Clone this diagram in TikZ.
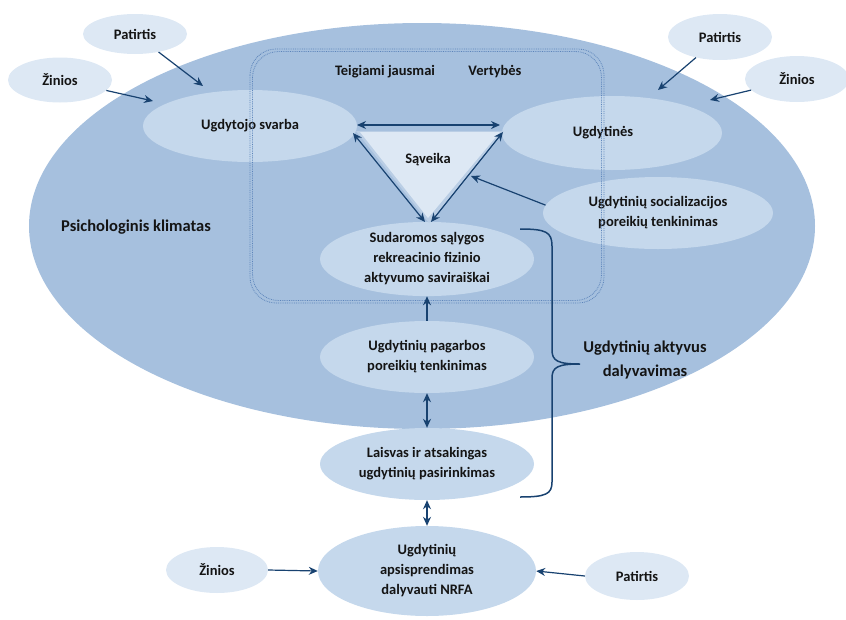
\documentclass[tikz,border=0pt]{standalone}
\usepackage{fontspec}
\setmainfont{Carlito}
\usetikzlibrary{shapes.geometric,arrows.meta}
\definecolor{bigfill}{RGB}{166,192,222}
\definecolor{midfill}{RGB}{197,216,236}
\definecolor{lightfill}{RGB}{221,232,244}
\definecolor{trishadow}{RGB}{186,206,229}
\definecolor{arrowcol}{RGB}{24,66,112}
\definecolor{dotcol}{RGB}{92,132,186}
\definecolor{txtcol}{RGB}{20,20,20}
\begin{document}
\begin{tikzpicture}[x=1pt,y=-1pt,
  txt/.style={font=\fontsize{14.5}{20}\selectfont\bfseries, text=txtcol, align=center},
  bigtxt/.style={font=\fontsize{16.5}{24}\selectfont\bfseries, text=txtcol, align=center},
  ell/.style={ellipse, inner sep=0pt, txt},
  outerell/.style={ell, fill=lightfill},
  innerell/.style={ell, fill=midfill},
  arr/.style={draw=arrowcol, line width=1.2pt, -{Stealth[length=9pt,width=8pt]}},
  darr/.style={draw=arrowcol, line width=1.2pt, {Stealth[length=9pt,width=8pt]}-{Stealth[length=9pt,width=8pt]}},
  bracestyle/.style={draw=arrowcol, line width=1.5pt},
  dotline/.style={draw=dotcol, line width=0.8pt, densely dotted, rounded corners=26pt},
]
\useasboundingbox (0,0) rectangle (846,619);

% big climate ellipse
\node[ellipse, fill=bigfill, minimum width=786pt, minimum height=406pt, inner sep=0pt] (clim) at (422,226) {};

% outer small ellipses
\node[outerell, minimum width=104pt, minimum height=40pt] (patTL) at (135,34) {Patirtis};
\node[outerell, minimum width=104pt, minimum height=45pt] (zinTL) at (60,80) {Žinios};
\node[outerell, minimum width=104pt, minimum height=46pt] (patTR) at (720,37) {Patirtis};
\node[outerell, minimum width=104pt, minimum height=46pt] (zinTR) at (797,79) {Žinios};
\node[outerell, minimum width=102pt, minimum height=46pt] (zinB) at (217,570) {Žinios};
\node[outerell, minimum width=104pt, minimum height=48pt] (patB) at (637,576) {Patirtis};

% inner ellipses
\node[innerell, minimum width=214pt, minimum height=72pt] (ugsv) at (250,126) {Ugdytojo svarba};
\node[innerell, minimum width=220pt, minimum height=74pt] (ugdt) at (612,133) {\hspace*{-18pt}Ugdytinės};
\node[innerell, minimum width=230pt, minimum height=72pt] (soc) at (658,213) {Ugdytinių socializacijos\\poreikių tenkinimas};
\node[innerell, minimum width=214pt, minimum height=68pt] (sud) at (427,259) {Sudaromos sąlygos\\rekreacinio fizinio\\aktyvumo saviraiškai};
\node[innerell, minimum width=214pt, minimum height=72pt] (pag) at (427,357) {Ugdytinių pagarbos\\poreikių tenkinimas};
\node[innerell, minimum width=214pt, minimum height=72pt] (lais) at (427,464) {Laisvas ir atsakingas\\ugdytinių pasirinkimas};
\node[innerell, minimum width=218pt, minimum height=90pt] (aps) at (427,571) {Ugdytinių\\apsisprendimas\\dalyvauti NRFA};

% triangle
\coordinate (tA) at (360,132);
\coordinate (tB) at (500,132);
\coordinate (tC) at (428,218);
\fill[trishadow] (356,131) -- (504,131) -- (429,223) -- cycle;
\fill[lightfill] (tA) -- (tB) -- (tC) -- cycle;
\node[txt] (sav) at (428,160) {Sąveika};

% dotted rounded frame (double dotted)
\draw[dotline] (250,49) rectangle (604,303);
\draw[dotline] (252.5,51.5) rectangle (601.5,300.5);

% labels
\node[txt] (teig) at (385,72) {Teigiami jausmai};
\node[txt] (vert) at (495,72) {Vertybės};
\node[bigtxt] (psi) at (136,227) {Psichologinis klimatas};
\node[bigtxt] (akt) at (645,360) {Ugdytinių aktyvus\\dalyvavimas};

% arrows from outer ellipses
\coordinate (pTLend) at (203,86);
\coordinate (zTLend) at (153,101);
\coordinate (pTRend) at (658,90);
\coordinate (zTRend) at (710,100);
\draw[arr] (patTL) -- (pTLend);
\draw[arr] (zinTL) -- (zTLend);
\draw[arr] (patTR) -- (pTRend);
\draw[arr] (zinTR) -- (zTRend);
\draw[arr] (zinB.east) -- (aps.west);
\draw[arr] (patB.west) -- (aps.east);

% triangle arrows
\coordinate (hL) at (357,125);
\coordinate (hR) at (500,125);
\coordinate (lTop) at (353,133);
\coordinate (lBot) at (425,222);
\coordinate (rTop) at (503,132);
\coordinate (rBot) at (431,222);
\coordinate (socEnd) at (471,176);
\draw[darr] (hL) -- (hR);
\draw[darr] (lTop) -- (lBot);
\draw[darr] (rTop) -- (rBot);
\draw[arr] (soc.176) -- (socEnd);

% vertical arrows
\draw[arr] (pag.north) -- (sud.south);
\draw[darr] (pag.south) -- (lais.north);
\draw[darr] (lais.south) -- (aps.north);

% brace
\coordinate (brT) at (520,229);
\coordinate (brB) at (520,497);
\coordinate (brTip) at (580,364);
\draw[bracestyle] (brT) .. controls (546,229) and (552,232) .. (552,246)
  -- (552,350) .. controls (552,361) and (558,364) .. (brTip)
  .. controls (558,364) and (552,367) .. (552,378)
  -- (552,482) .. controls (552,494) and (546,497) .. (brB);
\end{tikzpicture}
\end{document}
